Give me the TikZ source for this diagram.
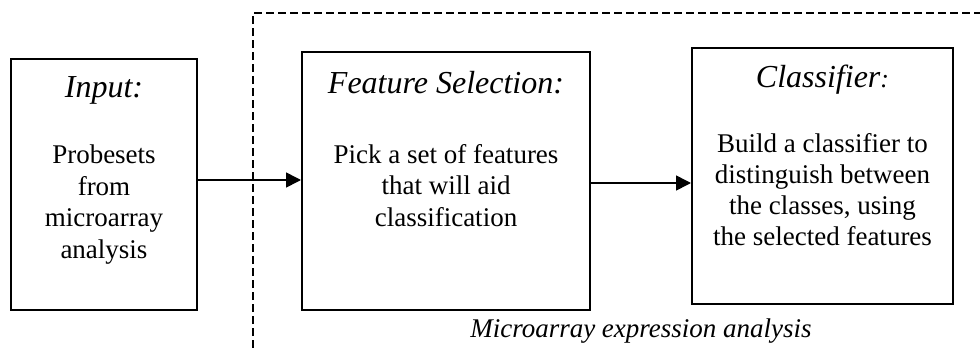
\documentclass[tikz,border=0pt]{standalone}
\usepackage{fontspec}
\setmainfont{Liberation Serif}
\usetikzlibrary{arrows.meta}
\begin{document}
\begin{tikzpicture}[x=1pt,y=-1pt,
  stage/.style={draw,line width=2pt,inner sep=0pt},
  head/.style={anchor=base,inner sep=0pt,font=\fontsize{32}{32}\selectfont\itshape},
  body/.style={anchor=base,inner sep=0pt,font=\fontsize{27}{27}\selectfont},
  flow/.style={line width=1.6pt,-{Triangle[length=15pt,width=15pt]}},
  region/.style={line width=1.5pt,dash pattern=on 8pt off 4pt}]
\useasboundingbox (0,0) rectangle (980,348);

% Stage boxes
\node[stage,minimum width=186pt,minimum height=251pt] (in)  at (104,184.5) {};
\node[stage,minimum width=288pt,minimum height=258pt] (fs)  at (446,181) {};
\node[stage,minimum width=261pt,minimum height=256pt] (cl)  at (822.5,176) {};

% Input
\node[head] (inh) at (104,97) {Input:};
\node[body] (in1) at (104,163) {Probesets};
\node[body] (in2) at (104,195) {from};
\node[body] (in3) at (104,226) {microarray};
\node[body] (in4) at (104,258) {analysis};

% Feature selection
\node[head] (fsh) at (446,93) {Feature Selection:};
\node[body] (fs1) at (446,163) {Pick a set of features};
\node[body] (fs2) at (446,194.5) {that will aid};
\node[body] (fs3) at (446,226) {classification};

% Classifier
\node[head] (clh) at (822.5,87) {Classifier{\fontsize{26}{26}\selectfont:}};
\node[body] (cl1) at (822.5,152) {Build a classifier to};
\node[body] (cl2) at (822.5,183) {distinguish between};
\node[body] (cl3) at (822.5,214) {the classes, using};
\node[body] (cl4) at (822.5,245) {the selected features};

% Dashed region and its caption
\coordinate (rb) at (253,348);
\coordinate (rc) at (253,13);
\coordinate (rr) at (980,13);
\draw[region] (rb) -- (rc) -- (rr);
\node[anchor=base,inner sep=0pt,font=\fontsize{27}{27}\selectfont\itshape] (cap) at (641,337) {Microarray expression analysis};

% Connectors
\draw[flow] (in.east |- 0,180) -- (fs.west |- 0,180);
\draw[flow] (fs.east |- 0,183) -- (cl.west |- 0,183);
\end{tikzpicture}
\end{document}
